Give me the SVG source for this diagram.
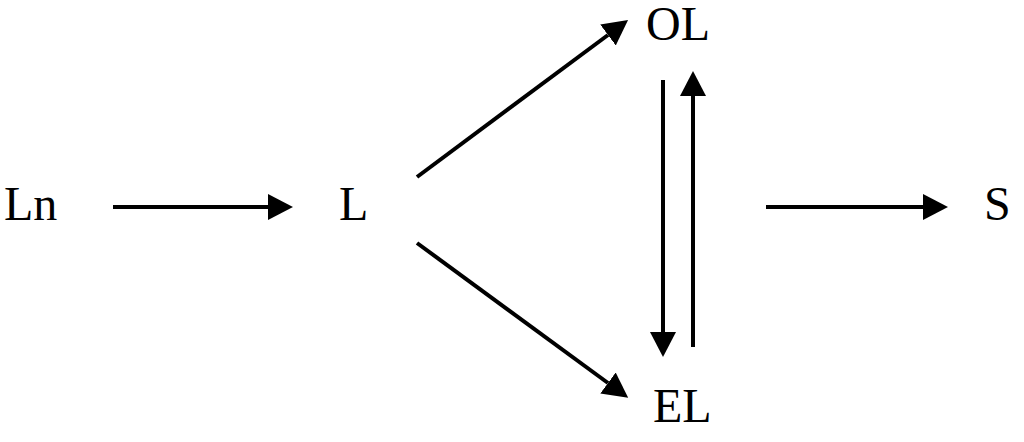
<svg xmlns="http://www.w3.org/2000/svg" width="1024" height="442" viewBox="0 0 1024 442">
<style>
text{font-family:"Liberation Serif","DejaVu Serif",serif;font-size:48px;fill:#000}
.c line{stroke:#000;stroke-width:4;fill:none}
</style>
<defs>
<marker id="ah" markerUnits="userSpaceOnUse" markerWidth="26" markerHeight="28" refX="0" refY="13" orient="auto" viewBox="0 0 26 26">
<path d="M0,0 L25,13 L0,26 Z" fill="#000"/>
</marker>
</defs>
<rect width="1024" height="442" fill="#fff"/>
<g id="connectors" class="c">
<line x1="113" y1="207" x2="268" y2="207" marker-end="url(#ah)"/>
<line x1="417" y1="177" x2="608" y2="35" marker-end="url(#ah)"/>
<line x1="417" y1="243" x2="608" y2="383" marker-end="url(#ah)"/>
<line x1="663" y1="80" x2="663" y2="332" marker-end="url(#ah)"/>
<line x1="693" y1="347" x2="693" y2="96" marker-end="url(#ah)"/>
<line x1="766" y1="207" x2="923" y2="207" marker-end="url(#ah)"/>
</g>
<g id="Ln"><text x="4" y="220">Ln</text></g>
<g id="L"><text x="339" y="220">L</text></g>
<g id="OL"><text x="646" y="40">OL</text></g>
<g id="EL"><text x="653" y="422">EL</text></g>
<g id="S"><text x="984" y="220">S</text></g>
</svg>
